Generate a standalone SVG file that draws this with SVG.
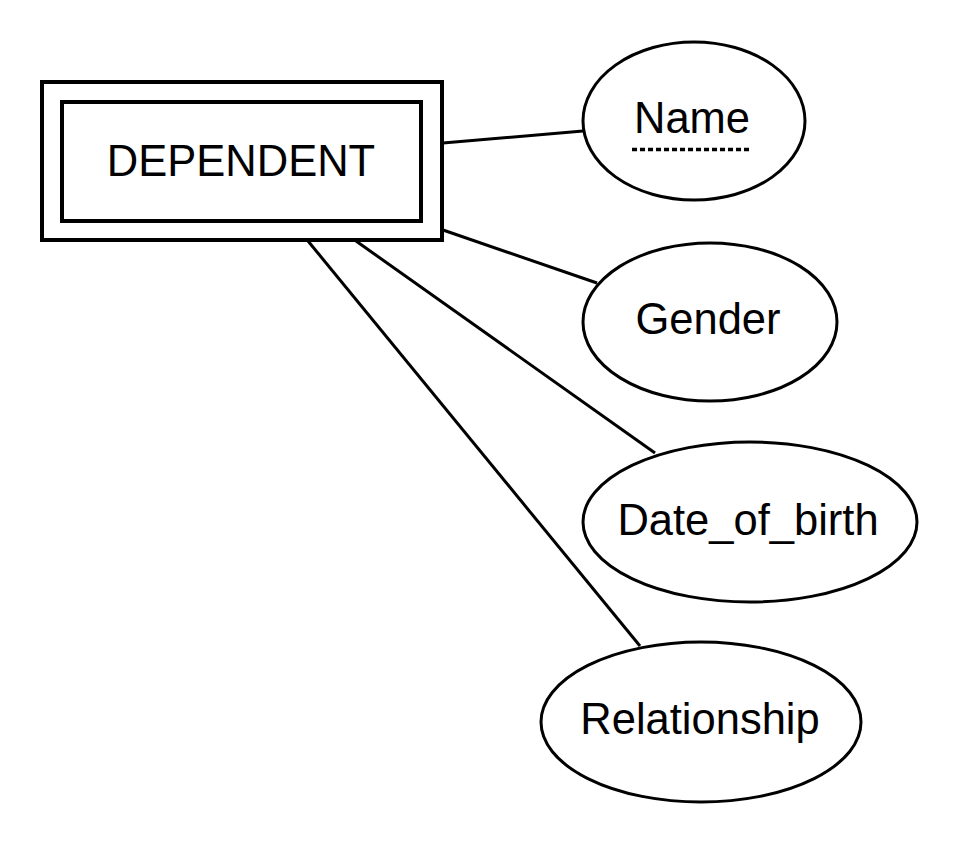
<svg xmlns="http://www.w3.org/2000/svg" width="964" height="848" viewBox="0 0 964 848">
<style>
.shape{fill:#fff;stroke:#000;stroke-width:3}
.rect{fill:#fff;stroke:#000;stroke-width:4}
.conn{stroke:#000;stroke-width:3;fill:none}
.lbl{font-family:"Liberation Sans",Arial,Helvetica,sans-serif;font-size:43.5px;fill:#000;text-anchor:middle}
</style>
<rect width="964" height="848" fill="#fff"/>
<g id="connectors">
<line class="conn" x1="443" y1="143" x2="583" y2="131"/>
<line class="conn" x1="443" y1="230" x2="597" y2="283"/>
<line class="conn" x1="356" y1="241" x2="655" y2="453"/>
<line class="conn" x1="308" y1="241" x2="640" y2="646"/>
</g>
<g id="dependent">
<rect class="rect" x="42" y="82" width="400" height="158"/>
<rect class="rect" x="62" y="102" width="359" height="119"/>
<text class="lbl" x="241" y="176">DEPENDENT</text>
</g>
<g id="name">
<ellipse class="shape" cx="694" cy="121" rx="111" ry="79"/>
<text class="lbl" x="692" y="133">Name</text>
<line x1="632" y1="149.5" x2="752" y2="149.5" stroke="#000" stroke-width="3.5" stroke-dasharray="5 3"/>
</g>
<g id="gender">
<ellipse class="shape" cx="710" cy="322" rx="127" ry="79"/>
<text class="lbl" x="708" y="334">Gender</text>
</g>
<g id="date_of_birth">
<ellipse class="shape" cx="750" cy="522" rx="167" ry="80"/>
<text class="lbl" x="748" y="535">Date_of_birth</text>
</g>
<g id="relationship">
<ellipse class="shape" cx="701" cy="722" rx="160" ry="80"/>
<text class="lbl" x="700" y="734">Relationship</text>
</g>
</svg>
